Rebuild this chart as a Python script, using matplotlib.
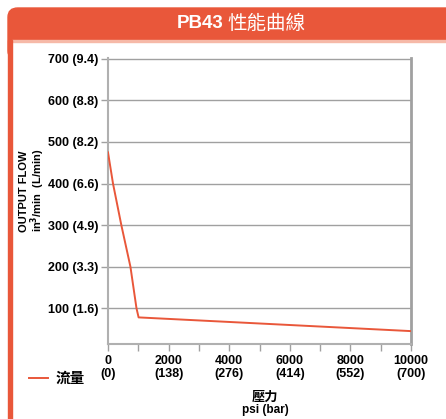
import matplotlib
matplotlib.use("Agg")
import matplotlib.pyplot as plt
from matplotlib.patches import FancyBboxPatch, Rectangle

plt.rcParams['font.family'] = ['Liberation Sans', 'Noto Sans CJK TC', 'DejaVu Sans']

# data
pressure = [0, 165, 440, 740, 940, 1010, 10000]
flow = [475, 400, 300, 200, 100, 78, 45]

y_ticks = [100, 200, 300, 400, 500, 600, 700]
y_labels = ["100 (1.6)", "200 (3.3)", "300 (4.9)", "400 (6.6)",
            "500 (8.2)", "600 (8.8)", "700 (9.4)"]
x_ticks = [0, 2000, 4000, 6000, 8000, 10000]
x_labels = ["0\n(0)", "2000\n(138)", "4000\n(276)", "6000\n(414)",
            "8000\n(552)", "10000\n(700)"]

orange = "#E9573A"
W, H = 446, 419
cjk = ['Noto Sans CJK TC', 'DejaVu Sans']

fig = plt.figure(figsize=(W / 100, H / 100), dpi=100)


def fx(px):
    return px / W


def fy(py):
    return 1 - py / H


# header bar + left border
fig.patches.append(FancyBboxPatch((fx(8), fy(60)), fx(460) - fx(8), fy(8) - fy(60),
                                  boxstyle="round,pad=0,rounding_size=0.022",
                                  transform=fig.transFigure, color=orange, zorder=0))
fig.patches.append(Rectangle((fx(12), 0), 1, fy(41), transform=fig.transFigure,
                             color="white", zorder=1))
fig.patches.append(Rectangle((fx(12), fy(42)), 1, fy(40) - fy(42), transform=fig.transFigure,
                             color="#F6B9A8", zorder=1))
fig.patches.append(Rectangle((fx(8), 0), fx(12) - fx(8), fy(40), transform=fig.transFigure,
                             color=orange, zorder=1))
fig.text(fx(223), fy(24), "PB43", color="white", fontsize=13.5, fontweight="bold",
         ha="right", va="center")
fig.text(fx(227), fy(23.5), "性能曲線", color="white", fontsize=14, fontweight="light",
         ha="left", va="center", family=cjk)

ax = fig.add_axes([fx(108), fy(344), fx(411) - fx(108), fy(58) - fy(344)])
ax.set_zorder(2)
ax.patch.set_alpha(0)
ax.plot(pressure, flow, color=orange, lw=1.4, label="流量", zorder=3)

ax.set_xlim(0, 10000)
ax.set_ylim(14, 702)
ax.set_yticks(y_ticks)
ax.set_yticklabels(y_labels, fontsize=9, fontweight="bold")
ax.set_xticks(x_ticks)
ax.set_xticks(range(1000, 10000, 2000), minor=True)
ax.set_xticklabels(x_labels, fontsize=9, fontweight="bold", linespacing=1.05)
ax.yaxis.grid(True, color="#A0A0A0", lw=1)
ax.tick_params(axis="both", which="both", color="#A0A0A0", length=5, width=1)
ax.tick_params(axis="y", pad=2)
ax.tick_params(axis="x", pad=3)
ax.spines["top"].set_visible(False)
ax.spines["left"].set_color("#B0B0B0")
ax.spines["left"].set_linewidth(1.5)
ax.spines["bottom"].set_color("#B0B0B0")
ax.spines["bottom"].set_linewidth(1.5)
ax.spines["right"].set_color("#A0A0A0")
ax.spines["right"].set_linewidth(2)

fig.text(fx(24), fy(191), "OUTPUT FLOW", rotation=90, fontsize=8, fontweight="bold",
         ha="center", va="center")
fig.text(fx(38), fy(190), "in$^\\mathbf{3}$/min  (L/min)", rotation=90, fontsize=8,
         fontweight="bold", ha="center", va="center")
fig.text(fx(265), fy(397), "壓力", fontsize=9.5, fontweight="bold", ha="center", va="center",
         family=cjk)
fig.text(fx(265), fy(410), "psi (bar)", fontsize=8.5, fontweight="bold", ha="center", va="center")

fig.legend(loc="center left", bbox_to_anchor=(fx(16), fy(378)), frameon=False,
           handlelength=1.3, handletextpad=0.5,
           prop={"family": cjk, "weight": "bold", "size": 10.5})

fig.savefig("out.png", dpi=100)
